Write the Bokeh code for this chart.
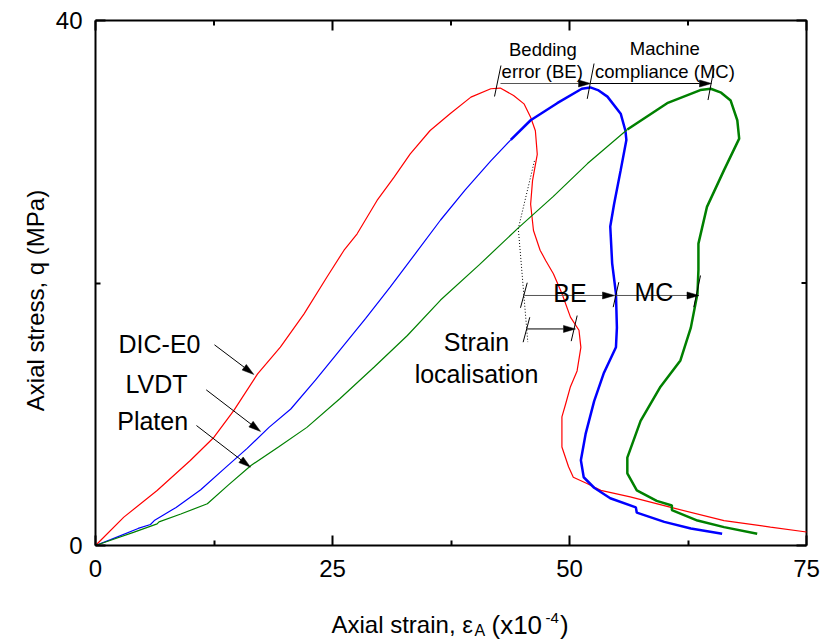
import math
import numpy as np
from bokeh.plotting import figure
from bokeh.models import Label, LinearAxis, FixedTicker, Range1d
from bokeh.embed import file_html
from bokeh.resources import INLINE

# ---------------- data ----------------
# DIC-E0 (red)
dic_x = [0.0, 0.53, 2.99, 6.5, 10.0, 12.5, 14.6, 17.1, 19.5, 22.0, 24.4, 26.2, 27.6,
         29.7, 31.5, 33.2, 35.3, 37.4, 39.6, 41.7, 42.7, 44.1, 45.2, 45.9,
         46.4, 46.6, 46.1, 45.9, 46.2, 46.9, 47.5, 48.3, 49.2, 50.1, 51.0, 51.2,
         50.8, 50.1, 49.6, 49.2, 49.2, 49.9, 50.4, 51.9, 53.3, 56.4, 60.7, 66.3,
         71.2, 75.0]
dic_y = [0.0, 0.38, 2.16, 4.19, 6.48, 8.25, 10.29, 13.08, 15.11, 17.65, 20.44, 22.48,
         23.75, 26.29, 28.06, 29.84, 31.62, 32.89, 34.16, 34.80, 34.85, 34.29, 33.65,
         32.63, 31.6, 29.8, 27.8, 26.0, 24.0, 22.5, 21.7, 20.7, 19.2, 17.4, 16.4,
         15.1, 13.3, 12.1, 10.8, 9.8, 7.5, 6.0, 5.2, 4.7, 4.2, 3.7, 2.9, 1.9, 1.4,
         1.03]

# LVDT (blue)
lvdt_x = [0.0, 1.6, 4.5, 5.8, 6.2, 8.5, 11.1, 13.5, 16.0, 18.3, 20.6, 23.2, 25.8,
          28.5, 31.1, 33.7, 36.4, 39.0, 41.7, 43.8, 45.9, 48.7, 51.3, 52.2, 53.0,
          54.0, 55.4, 55.9, 56.0, 55.4, 54.7, 54.3, 54.5, 54.9, 55.0, 54.9, 53.6,
          52.6, 51.7, 51.2, 51.5, 52.6, 54.3, 57.0, 57.1, 60.0, 62.8, 66.1]
lvdt_y = [0.0, 0.45, 1.3, 1.6, 1.9, 2.9, 4.25, 5.8, 7.4, 9.0, 10.4, 12.6, 14.9,
          17.3, 19.7, 22.2, 24.8, 27.1, 29.3, 30.9, 32.4, 33.7, 34.8, 34.9, 34.7,
          34.2, 32.9, 31.6, 30.9, 28.6, 26.0, 24.3, 21.5, 19.2, 16.6, 15.1, 13.1,
          11.0, 8.5, 6.5, 5.2, 4.4, 3.6, 2.9, 2.5, 1.8, 1.3, 0.9]

# Platen (green)
platen_x = [0.0, 1.6, 4.0, 6.5, 6.7, 9.0, 11.8, 14.0, 16.4, 19.3, 22.3, 25.8, 29.4,
            32.9, 36.4, 40.5, 44.6, 48.3, 51.9, 56.1, 60.3, 63.8, 64.9, 66.0, 67.0,
            67.7, 67.9, 66.3, 64.5, 63.6, 63.6, 63.5, 62.8, 61.7, 59.6, 57.5, 56.1,
            56.1, 57.1, 59.2, 60.8, 60.8, 63.5, 66.3, 69.8]
platen_y = [0.0, 0.4, 1.0, 1.65, 1.8, 2.4, 3.18, 4.6, 6.1, 7.5, 9.0, 11.2, 13.6,
            16.0, 18.7, 21.4, 24.2, 26.6, 29.1, 31.7, 33.7, 34.7, 34.8, 34.5, 33.9,
            32.4, 31.0, 28.6, 25.8, 23.0, 21.0, 19.2, 16.6, 14.1, 12.1, 9.5, 6.7,
            5.5, 4.2, 3.4, 3.05, 2.7, 1.9, 1.4, 0.9]

x_ticks = [0, 25, 50, 75]
x_minor = [12.5, 37.5, 62.5]
y_ticks = [0, 40]
y_minor = [20]
X_MIN, X_MAX = 0, 75
Y_MIN, Y_MAX = 0, 40

FONT = "Liberation Sans"

# ---------------- geometry ----------------
W, H = 827, 641
FRAME_L, FRAME_R, FRAME_T, FRAME_B = 95, 806, 20, 545   # pixel box of the plotting area
SX = (FRAME_R - FRAME_L) / (X_MAX - X_MIN)
SY = (FRAME_B - FRAME_T) / (Y_MAX - Y_MIN)

p = figure(width=W, height=H,
           x_range=Range1d(X_MIN - FRAME_L / SX, X_MIN + (W - FRAME_L) / SX),
           y_range=Range1d(Y_MIN - (H - FRAME_B) / SY, Y_MIN + FRAME_B / SY),
           x_axis_location=None, y_axis_location=None,
           output_backend="svg", toolbar_location=None,
           min_border=0, min_border_left=0, min_border_right=0,
           min_border_top=0, min_border_bottom=0)
p.grid.visible = False
p.outline_line_color = None
p.background_fill_color = "white"
p.border_fill_color = "white"


def style_axis(ax):
    ax.axis_line_color = "black"
    ax.axis_line_width = 2
    ax.major_tick_in = 10
    ax.major_tick_out = 0
    ax.minor_tick_in = 5
    ax.minor_tick_out = 0
    ax.major_tick_line_width = 2
    ax.minor_tick_line_width = 2
    ax.major_tick_line_color = "black"
    ax.minor_tick_line_color = "black"
    ax.major_label_text_font = FONT
    ax.major_label_text_font_size = "24px"
    ax.major_label_text_color = "black"


bottom = LinearAxis(ticker=FixedTicker(ticks=x_ticks, minor_ticks=x_minor),
                    fixed_location=Y_MIN, bounds=(X_MIN, X_MAX))
style_axis(bottom)
bottom.major_label_standoff = 14
left = LinearAxis(ticker=FixedTicker(ticks=y_ticks, minor_ticks=y_minor),
                  fixed_location=X_MIN, bounds=(Y_MIN, Y_MAX))
style_axis(left)
left.major_label_standoff = 13
p.add_layout(bottom, "below")
p.add_layout(left, "left")

# top and right edges of the box, with inward ticks (no labels)
p.line([X_MIN, X_MAX, X_MAX], [Y_MAX, Y_MAX, Y_MIN], line_color="black", line_width=2)
p.ray(x=x_ticks, y=[Y_MAX] * len(x_ticks), length=10, angle=-math.pi / 2,
      length_units="screen", line_color="black", line_width=2)
p.ray(x=x_minor, y=[Y_MAX] * len(x_minor), length=5, angle=-math.pi / 2,
      length_units="screen", line_color="black", line_width=2)
p.ray(x=[X_MAX] * len(y_ticks), y=y_ticks, length=10, angle=math.pi,
      length_units="screen", line_color="black", line_width=2)
p.ray(x=[X_MAX] * len(y_minor), y=y_minor, length=5, angle=math.pi,
      length_units="screen", line_color="black", line_width=2)

# ---------------- curves ----------------
THIN, THICK = 1.2, 2.5


def split_at(ys, level):
    arr = np.array(ys)
    return int(np.argmax(arr >= level))


p.line(dic_x, dic_y, line_color="#ff0000", line_width=1.2)

k = split_at(lvdt_y, 30.5)
p.line(lvdt_x[:k + 1], lvdt_y[:k + 1], line_color="#0000ff", line_width=THIN)
p.line(lvdt_x[k:], lvdt_y[k:], line_color="#0000ff", line_width=THICK)

k = split_at(platen_y, 31.0)
p.line(platen_x[:k + 1], platen_y[:k + 1], line_color="#008000", line_width=THIN)
p.line(platen_x[k:], platen_y[k:], line_color="#008000", line_width=THICK)


# ---------------- annotations ----------------
def arrow(x0, y0, x1, y1, color="black", head_len=12, head_w=7):
    dx = (x1 - x0) * SX
    dy = (y1 - y0) * SY
    L = math.hypot(dx, dy)
    ux, uy = dx / L, dy / L
    bx, by = -ux * head_len, -uy * head_len
    nx, ny = -uy * head_w / 2, ux * head_w / 2
    p.line([x0, x1 + bx / SX], [y0, y1 + by / SY], line_color=color, line_width=1)
    p.patch([x1, x1 + (bx + nx) / SX, x1 + (bx - nx) / SX],
            [y1, y1 + (by + ny) / SY, y1 + (by - ny) / SY],
            fill_color="black", line_color="black", line_width=0.5)


def slash(x0, y0, x1, y1):
    p.line([x0, x1], [y0, y1], line_color="black", line_width=1)


# top arrows
arrow(42.72, 35.2, 52.22, 35.2, color="#555555")
arrow(52.22, 35.2, 64.98, 35.2)
slash(42.77, 36.57, 42.09, 34.21)
slash(52.59, 36.72, 51.87, 34.03)
slash(65.24, 36.34, 64.61, 33.94)

# middle arrows
arrow(45.25, 19.05, 54.75, 19.05, color="#555555")
arrow(54.75, 19.05, 63.66, 19.05, color="#555555")
arrow(45.52, 16.50, 50.63, 16.50)
slash(45.54, 20.02, 44.83, 18.11)
slash(55.20, 20.06, 54.61, 18.16)
slash(63.82, 20.57, 63.11, 18.16)
slash(45.81, 17.39, 45.11, 15.49)
slash(50.81, 17.52, 50.18, 15.57)

# dotted guide
p.line([46.3, 44.6, 45.6], [29.3, 24.15, 15.5], line_color="black",
       line_width=1, line_dash="1 2")

# arrows pointing at the curves
arrow(12.55, 15.29, 16.70, 13.03)
arrow(11.68, 11.86, 17.41, 8.69)
arrow(10.65, 9.14, 16.35, 5.97)


def text(x, y, s, size="25px", align="left"):
    p.add_layout(Label(x=x, y=y, text=s, text_font=FONT, text_font_size=size,
                       text_align=align, text_baseline="alphabetic",
                       text_color="black"))


text(2.43, 15.39, "DIC-E0")
text(3.16, 12.27, "LVDT")
text(2.29, 9.49, "Platen")
text(40.19, 15.50, "Strain", align="center")
text(40.19, 13.10, "localisation", align="center")
text(50.05, 19.24, "BE", align="center")
text(58.91, 19.35, "MC", align="center")
text(47.20, 37.79, "Bedding", size="18.5px", align="center")
text(47.12, 36.08, "error (BE)", size="18.5px", align="center")
text(60.05, 37.84, "Machine", size="18.5px", align="center")
text(60.07, 36.08, "compliance (MC)", size="18.5px", align="center")


# axis titles, placed in pixels (x from left, y_px from top of the page)
def ptext(x, y_px, s, size="24px", align="left", angle=0.0):
    p.add_layout(Label(x=x, y=H - y_px, x_units="screen", y_units="screen", text=s,
                       text_font=FONT, text_font_size=size, text_align=align,
                       text_baseline="alphabetic", angle=angle,
                       text_color="black"))


ptext(331.0, 624.3, "Axial strain, \u03b5")
ptext(474.0, 630.0, "A", size="16px")
ptext(491.0, 624.3, "(x10", size="26px")
ptext(545.0, 617.5, "-4", size="15px")
ptext(559.5, 624.3, ")", size="26px")
ptext(34.5, 300.0, "Axial stress, q (MPa)", align="center", angle=math.pi / 2)

open("out.html", "w").write(file_html(p, INLINE))
